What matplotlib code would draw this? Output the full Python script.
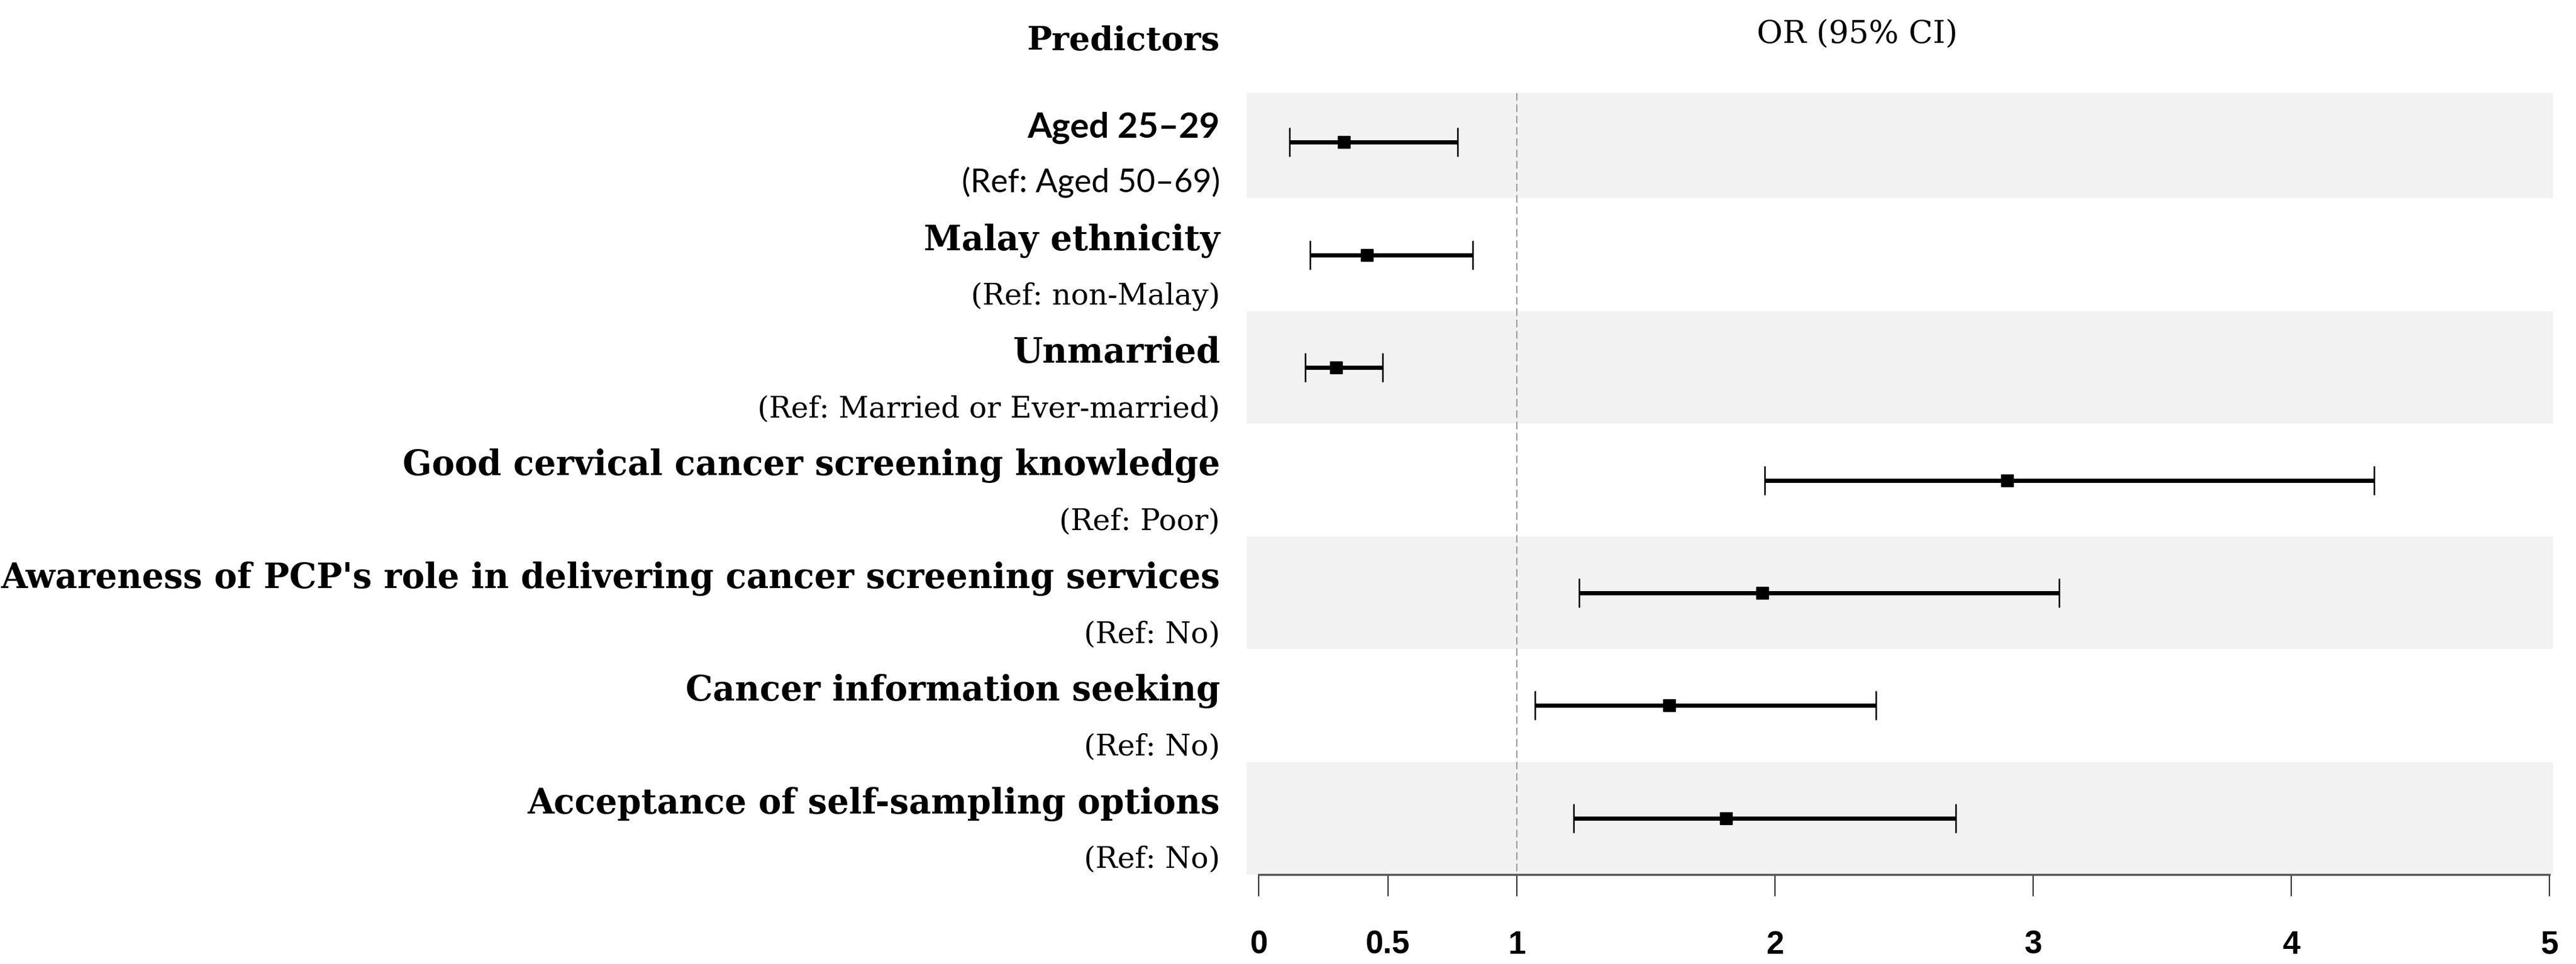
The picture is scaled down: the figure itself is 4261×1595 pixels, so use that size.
" forest plot of predictors, OR (95% CI) "
import matplotlib.pyplot as plt
import matplotlib.transforms as mtrans
import numpy as np

predictors = ["Aged 25\u201329", "Malay ethnicity", "Unmarried",
              "Good cervical cancer screening knowledge",
              "Awareness of PCP's role in delivering cancer screening services",
              "Cancer information seeking",
              "Acceptance of self-sampling options"]
refs = ["(Ref: Aged 50\u201369)", "(Ref: non-Malay)",
        "(Ref: Married or Ever-married)", "(Ref: Poor)",
        "(Ref: No)", "(Ref: No)", "(Ref: No)"]
odds = np.array([0.33, 0.42, 0.30, 2.90, 1.95, 1.59, 1.81])
ci_lo = np.array([0.12, 0.20, 0.18, 1.96, 1.24, 1.07, 1.22])
ci_hi = np.array([0.77, 0.83, 0.48, 4.32, 3.10, 2.39, 2.70])
xticks = [0, 0.5, 1, 2, 3, 4, 5]
xticklabels = ["0", "0.5", "1", "2", "3", "4", "5"]

W, H = 4261, 1595
SERIF = "DejaVu Serif"
fig = plt.figure(figsize=(W / 100, H / 100), dpi=100)
ax = fig.add_axes([2062 / W, (H - 1447) / H, (4223 - 2062) / W, (1447 - 142) / H])

n = len(predictors)
rows = np.arange(n) + 0.5

# shaded bands on every other row
for i in range(0, n, 2):
    ax.axhspan(i + (0.065 if i == 0 else 0), i + 1, color="#f2f2f2", lw=0, zorder=0)

ax.plot([1, 1], [0.065, n], color="#9a9a9a", lw=1.5, dashes=(6, 3), zorder=1)

ax.errorbar(odds, rows, xerr=[odds - ci_lo, ci_hi - odds], fmt="s", color="black",
            ms=15, elinewidth=5, capsize=17, capthick=1.8, zorder=3)

ax.set_xlim(-0.047, 5.014)
ax.set_ylim(n, 0)
for s in ["top", "left", "right"]:
    ax.spines[s].set_visible(False)
ax.spines["bottom"].set_bounds(0, 5)
ax.spines["bottom"].set_linewidth(2.5)
ax.spines["bottom"].set_color("#555555")
ax.set_yticks([])
ax.set_xticks(xticks)
ax.set_xticklabels(xticklabels, fontfamily="Liberation Sans", fontweight="bold",
                   fontsize=38)
ax.tick_params(axis="x", length=26, width=1.5, color="#333333", pad=40)

# row labels, right aligned left of the plot
tr = mtrans.blended_transform_factory(fig.transFigure, ax.transData)
xr = 2018 / W
labs, rfs = [], []
for i, (lab, ref) in enumerate(zip(predictors, refs)):
    fam = "Lato" if i == 0 else SERIF
    labs.append(ax.text(xr, i + 0.457, lab, transform=tr, ha="right",
                        va="baseline", fontfamily=fam, fontweight="bold",
                        fontsize=40))
    rfs.append(ax.text(xr, i + 0.94, ref, transform=tr, ha="right",
                       va="baseline", fontfamily=fam, fontsize=32))

head_l = fig.text(xr, 1 - 83 / H, "Predictors", ha="right", va="baseline",
                  fontfamily=SERIF, fontweight="bold", fontsize=40)
head_r = fig.text(3072 / W, 1 - 72 / H, "OR (95% CI)", ha="center",
                  va="baseline", fontfamily=SERIF, fontsize=30)

# size the texts to the widths seen in the figure
renderer = fig.canvas.get_renderer()


def fit(t, target):
    w = t.get_window_extent(renderer).width
    t.set_fontsize(t.get_fontsize() * target / w)
    return t.get_fontsize()


size_b = fit(labs[4], 2013)
for t in labs[1:]:
    t.set_fontsize(size_b)
fit(labs[0], 318)
size_r = fit(rfs[2], 767)
for t in rfs[1:]:
    t.set_fontsize(size_r)
fit(rfs[0], 428)
fit(head_l, 318)
fit(head_r, 332)

fig.savefig("out.png", dpi=100)
